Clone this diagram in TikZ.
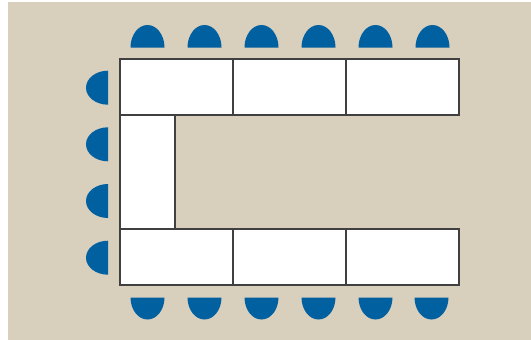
\documentclass[tikz,border=0pt]{standalone}
\definecolor{bg}{RGB}{217,207,189}
\definecolor{chairblue}{RGB}{0,96,160}
\begin{document}
\begin{tikzpicture}[x=1pt,y=1pt,
  tbl/.style={draw=black!75,line width=1.1pt,fill=white,inner sep=0pt,outer sep=0pt},
  chair/.style={fill=chairblue,draw=none}]
\useasboundingbox (0,0) rectangle (531,-340);
\fill[bg] (8,-2) rectangle (531,-340);
% tables
\node[tbl,minimum width=113pt,minimum height=56pt] (t1) at (176.5,-87) {};
\node[tbl,minimum width=113pt,minimum height=56pt] (t2) at (289.5,-87) {};
\node[tbl,minimum width=113pt,minimum height=56pt] (t3) at (402.5,-87) {};
\node[tbl,minimum width=55pt,minimum height=114pt] (t4) at (147.5,-172) {};
\node[tbl,minimum width=113pt,minimum height=56pt] (t5) at (176.5,-257) {};
\node[tbl,minimum width=113pt,minimum height=56pt] (t6) at (289.5,-257) {};
\node[tbl,minimum width=113pt,minimum height=56pt] (t7) at (402.5,-257) {};
% top chairs
\foreach \cx in {147.5,204.5,261.5,318.5,375.5,432.5}{
  \fill[chair] (\cx-17,-47.5) arc[start angle=180,end angle=0,x radius=17pt,y radius=22.5pt] -- cycle;
}
% bottom chairs
\foreach \cx in {147.5,204.5,261.5,318.5,375.5,431.5}{
  \fill[chair] (\cx-17,-297.5) arc[start angle=180,end angle=360,x radius=17pt,y radius=22pt] -- cycle;
}
% left chairs
\foreach \cy in {87.7,144.3,201,257.7}{
  \fill[chair] (108,-\cy+17) arc[start angle=90,end angle=270,x radius=22pt,y radius=17pt] -- cycle;
}
\end{tikzpicture}
\end{document}
